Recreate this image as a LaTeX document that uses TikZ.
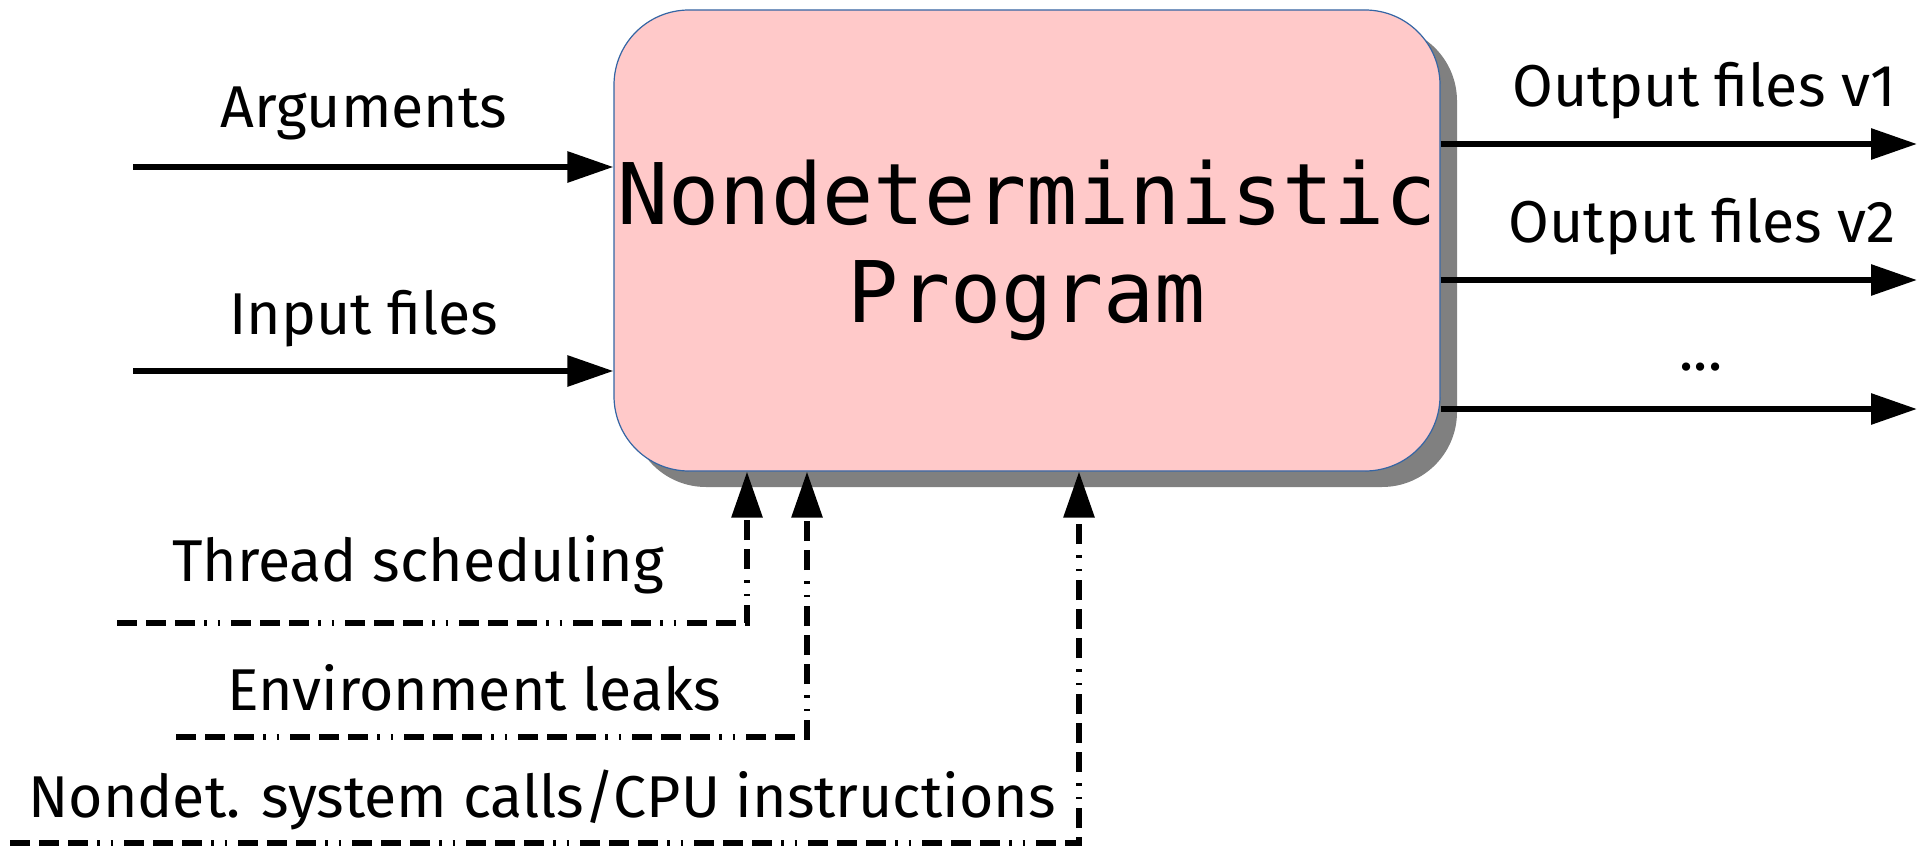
\documentclass[tikz,border=0pt]{standalone}
\usepackage{fontspec}
\setmainfont{Fira Sans}
\newfontfamily\progfont{DejaVu Sans Mono}
\usetikzlibrary{arrows.meta,shadows}
\definecolor{boxfill}{HTML}{FFC9C9}
\definecolor{boxline}{HTML}{3465A4}
\definecolor{shadowgray}{HTML}{808080}
\begin{document}
\begin{tikzpicture}[x=1pt,y=-1pt,
  lbl/.style={font=\fontsize{59}{70}\selectfont, anchor=base, inner sep=0pt},
  flow/.style={line width=6pt, -{Triangle[length=46pt,width=30pt]}},
  factor/.style={flow, dash pattern=on 20pt off 9pt on 20pt off 9pt on 20pt off 9pt on 2.5pt off 11pt on 2.5pt off 11pt},
]
\useasboundingbox (0,0) rectangle (1927,848);

% the program box with its shadow
\node[draw=boxline, line width=1.2pt, fill=boxfill, rounded corners=75pt,
      minimum width=826pt, minimum height=461pt, inner sep=0pt,
      drop shadow={shadow xshift=17pt, shadow yshift=-16pt, fill=shadowgray, opacity=1}]
      (prog) at (1027,240.5) {};
\node[font=\progfont\fontsize{85}{98}\selectfont, align=center, inner sep=0pt]
      (progtext) at ([yshift=-10pt]prog.center) {Nondeterministic\\Program};

% inputs
\coordinate (argsrc) at (133,167);
\coordinate (inpsrc) at (133,371);
\draw[flow] (argsrc) -- (argsrc -| prog.west);
\draw[flow] (inpsrc) -- (inpsrc -| prog.west);
\node[lbl] (arglbl) at (364,128) {Arguments};
\node[lbl] (inplbl) at (364,334) {Input files};

% outputs
\coordinate (out1) at (1917,144);
\coordinate (out2) at (1917,280);
\coordinate (out3) at (1917,409);
\draw[flow] (out1 -| prog.east) -- (out1);
\draw[flow] (out2 -| prog.east) -- (out2);
\draw[flow] (out3 -| prog.east) -- (out3);
\node[lbl] (out1lbl) at (1704,107) {Output files v1};
\node[lbl] (out2lbl) at (1702,242) {Output files v2};
\node[lbl] (moreout) at (1701,370) {...};

% sources of nondeterminism
\coordinate (tsfrom) at (117,623);
\coordinate (tsbend) at (747,623);
\coordinate (envfrom) at (176,737);
\coordinate (envbend) at (807,737);
\coordinate (sysfrom) at (10,843);
\coordinate (sysbend) at (1079,843);
\draw[factor] (tsfrom) -- (tsbend) -- (tsbend |- prog.south);
\draw[factor] (envfrom) -- (envbend) -- (envbend |- prog.south);
\draw[factor] (sysfrom) -- (sysbend) -- (sysbend |- prog.south);
\node[lbl] (tslbl) at (418,581) {Thread scheduling};
\node[lbl] (envlbl) at (474,710) {Environment leaks};
\node[lbl] (syslbl) at (542,817) {Nondet. system calls/CPU instructions};
\end{tikzpicture}
\end{document}
